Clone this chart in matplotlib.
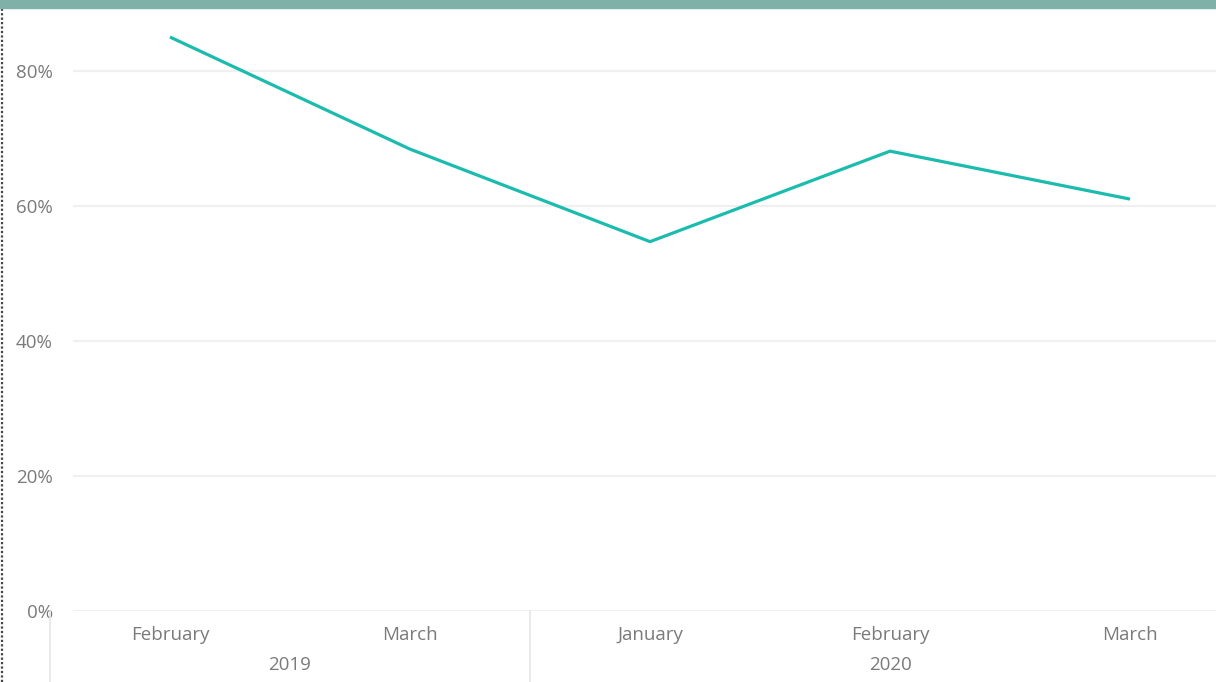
import matplotlib.pyplot as plt
from matplotlib.lines import Line2D
from matplotlib.patches import Rectangle
from matplotlib.transforms import blended_transform_factory
import numpy as np

# =========================
# Data
# =========================

MONTHS = ["February", "March", "January", "February", "March"]
YEARS = ["2019", "2019", "2020", "2020", "2020"]
VALUES = [85.0, 68.4, 54.7, 68.1, 61.0]

YTICKS = [0, 20, 40, 60, 80]

LINE_COLOR = "#1BBCAD"
TEXT_COLOR = "#7A7A7A"
GRID_COLOR = "#F0F0F0"

plt.rcParams["font.family"] = ["Open Sans", "DejaVu Sans"]

W, H = 1216, 682
fig = plt.figure(figsize=(W / 100, H / 100), dpi=100)

# axes placed in pixel units
left, right, bottom, top = 73, 1216, 682 - 611, 682 - 8
ax = fig.add_axes([left / W, bottom / H, (right - left) / W, (top - bottom) / H])

x = np.arange(len(VALUES))
ax.plot(x, VALUES, color=LINE_COLOR, linewidth=2.3, solid_capstyle="butt",
        solid_joinstyle="miter", zorder=3)

ax.set_xlim(-0.404, 4.358)
ax.set_ylim(0, 89.3)

ax.set_yticks(YTICKS)
ax.set_yticklabels([f"{v}%" for v in YTICKS])
ax.yaxis.grid(True, color=GRID_COLOR, linewidth=1.6)
ax.set_axisbelow(True)

ax.set_xticks(x)
ax.set_xticklabels(MONTHS)

ax.tick_params(axis="both", length=0, labelsize=13.5, labelcolor=TEXT_COLOR)
ax.tick_params(axis="y", pad=14.4)
ax.tick_params(axis="x", pad=11)
for lab in ax.get_yticklabels():
    lab.set_horizontalalignment("right")

for s in ax.spines.values():
    s.set_visible(False)

# year labels and group separators below the axis
trans = blended_transform_factory(ax.transData, ax.transAxes)
years_unique = list(dict.fromkeys(YEARS))
for yr in years_unique:
    idx = [i for i, y in enumerate(YEARS) if y == yr]
    ax.text(np.mean(idx), -0.0896, yr, transform=trans, ha="center", va="center",
            fontsize=13.5, color=TEXT_COLOR)
    ax.add_line(Line2D([idx[0] - 0.5, idx[0] - 0.5], [0, -0.2], transform=trans,
                       color="#E6E6E6", linewidth=1.2, clip_on=False))

# top banner and dotted left border
fig.patches.append(Rectangle((0, 1 - 8 / H), 1, 8 / H, transform=fig.transFigure,
                             color="#7FB1A9", zorder=5))
fig.lines.append(Line2D([1.5 / W, 1.5 / W], [0, 1 - 8 / H], transform=fig.transFigure,
                        color="#444444", linewidth=1.6, linestyle=(0, (1, 1))))

fig.savefig("out.png", dpi=100)
